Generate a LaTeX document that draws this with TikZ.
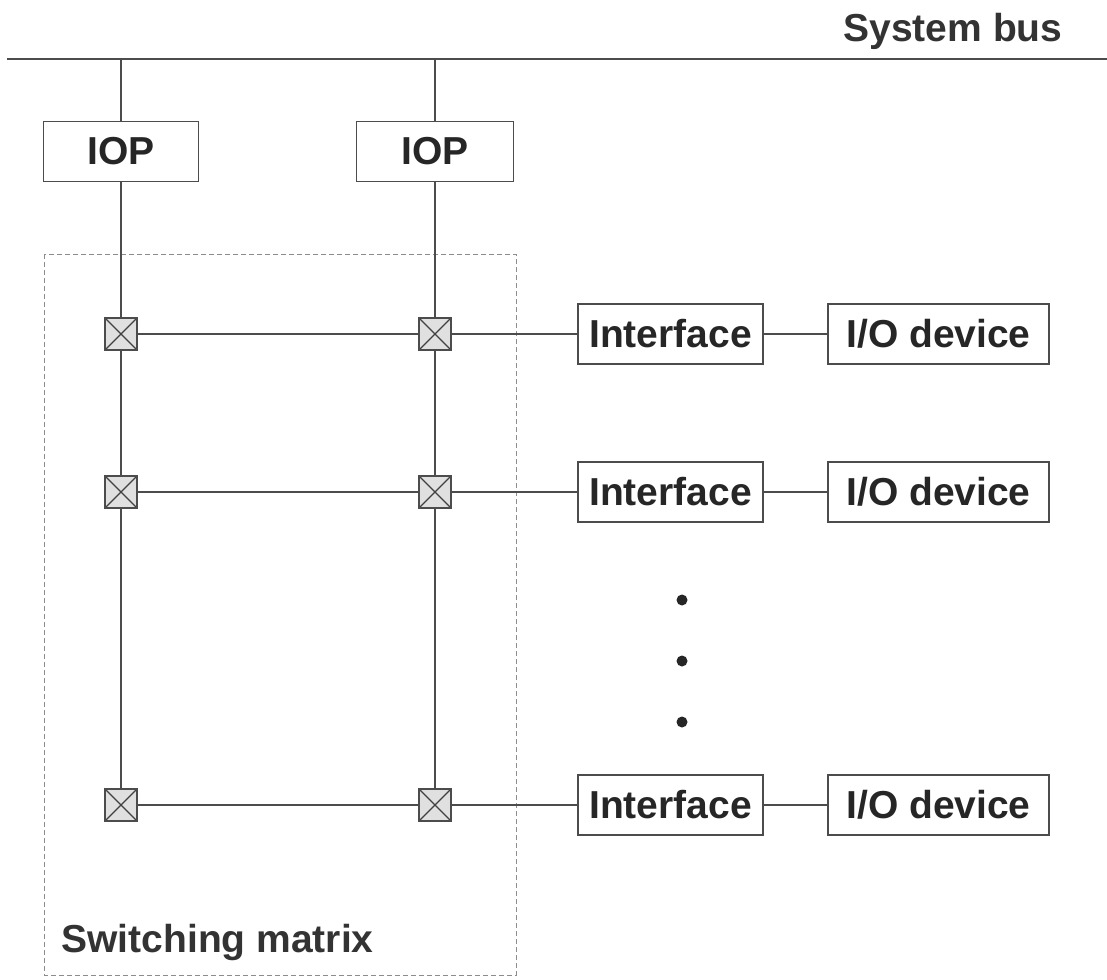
\documentclass[tikz,border=0pt]{standalone}
\usepackage{fontspec}
\setmainfont{Liberation Sans}
\begin{document}
\begin{tikzpicture}[x=1pt,y=-1pt,
  line/.style={draw=black!70, line width=1.3pt},
  unit/.style={line, rectangle, fill=white, inner sep=0pt,
    minimum height=60pt, text=black!85,
    font=\fontsize{39}{44}\selectfont\bfseries},
  xpoint/.style={line, rectangle, fill=black!12, minimum width=32pt,
    minimum height=32pt, inner sep=0pt,
    path picture={\draw[black!75, line width=1.3pt]
      (path picture bounding box.north west) -- (path picture bounding box.south east)
      (path picture bounding box.north east) -- (path picture bounding box.south west);}},
  dot/.style={circle, fill=black!85, minimum size=11pt, inner sep=0pt},
  label/.style={text=black!80, font=\fontsize{39}{44}\selectfont\bfseries}]
\useasboundingbox[fill=white] (0,0) rectangle (1107,979);

% switching matrix outline
\draw[black!45, line width=1pt, dash pattern=on 5pt off 3pt] (44,254) rectangle (516,975);
\node[label, anchor=base west] (sm) at (58,952) {Switching matrix};

% system bus
\coordinate (busL) at (7,59);
\coordinate (busR) at (1107,59);
\coordinate (tapA) at (121,59);
\coordinate (tapB) at (435,59);
\draw[line, line width=2pt] (busL) -- (busR);
\node[label, anchor=base] (bus) at (953,42) {System bus};

% I/O processors
\node[unit, minimum width=155pt] (iopA) at (121,151.5) {IOP};
\node[unit, minimum width=157pt] (iopB) at (435,151.5) {IOP};

% crosspoint switches, interfaces and devices
\foreach \r/\y in {1/334,2/492,3/805}{
  \node[xpoint] (xa\r) at (121,\y) {};
  \node[xpoint] (xb\r) at (435,\y) {};
  \node[unit, minimum width=185pt] (if\r) at (670.5,\y) {Interface};
  \node[unit, minimum width=221pt] (dev\r) at (938.5,\y) {I/O device};
}

% vertical buses
\draw[line] (tapA) -- (iopA.north);
\draw[line] (tapB) -- (iopB.north);
\draw[line] (iopA.south) -- (xa1.north);
\draw[line] (xa1.south) -- (xa2.north);
\draw[line] (xa2.south) -- (xa3.north);
\draw[line] (iopB.south) -- (xb1.north);
\draw[line] (xb1.south) -- (xb2.north);
\draw[line] (xb2.south) -- (xb3.north);

% horizontal links
\foreach \r in {1,2,3}{
  \draw[line] (xa\r.east) -- (xb\r.west);
  \draw[line] (xb\r.east) -- (if\r.west);
  \draw[line] (if\r.east) -- (dev\r.west);
}

% ellipsis dots
\node[dot] (d1) at (682,600) {};
\node[dot] (d2) at (682,661) {};
\node[dot] (d3) at (682,722) {};
\end{tikzpicture}
\end{document}
